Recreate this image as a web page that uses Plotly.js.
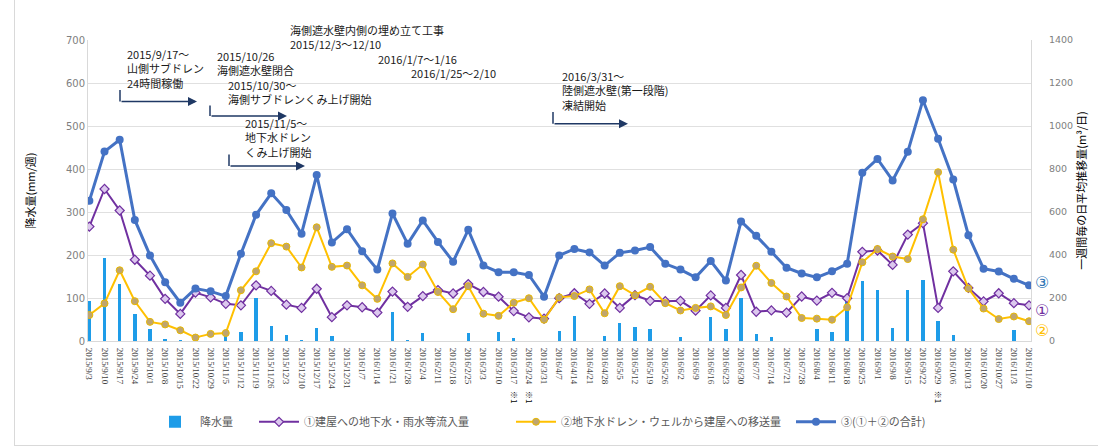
<!DOCTYPE html>
<html><head><meta charset="utf-8">
<script src="https://cdn.plot.ly/plotly-3.0.1.min.js"></script>
<style>
html,body{margin:0;padding:0;background:#fff;}
#wrap{position:relative;width:1098px;height:448px;}
#frame{position:absolute;left:14px;top:-2px;width:1090px;height:447px;border-left:1px solid #d9d9d9;border-bottom:1px solid #d9d9d9;pointer-events:none;}
#chart{position:absolute;left:0;top:0;width:1098px;height:448px;}
</style></head>
<body><div id="wrap"><div id="chart"></div><div id="frame"></div></div>
<script>
const dates = ["2015/9/3","2015/9/10","2015/9/17","2015/9/24","2015/10/1","2015/10/8","2015/10/15","2015/10/22","2015/10/29","2015/11/5","2015/11/12","2015/11/19","2015/11/26","2015/12/3","2015/12/10","2015/12/17","2015/12/24","2015/12/31","2016/1/7","2016/1/14","2016/1/21","2016/1/28","2016/2/4","2016/2/11","2016/2/18","2016/2/25","2016/3/3","2016/3/10","2016/3/17","2016/3/24","2016/3/31","2016/4/7","2016/4/14","2016/4/21","2016/4/28","2016/5/5","2016/5/12","2016/5/19","2016/5/26","2016/6/2","2016/6/9","2016/6/16","2016/6/23","2016/6/30","2016/7/7","2016/7/14","2016/7/21","2016/7/28","2016/8/4","2016/8/11","2016/8/18","2016/8/25","2016/9/1","2016/9/8","2016/9/15","2016/9/22","2016/9/29","2016/10/6","2016/10/13","2016/10/20","2016/10/27","2016/11/3","2016/11/10"];

// 降水量 (mm/週)
const rainfall = [92,194,132,62,27,4,1.5,0,0,18,22,99,34,15,3,30,12,0,0,0,67,3,19,1,1,19,0,20,7,0,0,24,59,1,11,42,33,27,0,9,0,56,27,100,16,10,0,0,29,20,98,140,118,31,118,141,47,14,0,0,0,25,0];

// ① 建屋への地下水・雨水等流入量 (m³/日)
const inflow = [532,707,607,378,304,196,126,225,203,173,166,259,233,169,154,243,111,166,157,132,230,159,209,237,221,265,228,206,139,110,104,199,222,173,221,154,213,187,185,187,141,212,154,307,136,142,132,207,188,224,199,415,421,354,495,548,154,324,247,184,222,176,166];

// ② 地下水ドレン・ウェルから建屋への移送量 (m³/日)
const transfer = [121,175,329,185,89,77,50,16,33,37,236,324,455,439,342,529,345,351,259,196,361,298,356,228,148,255,127,117,178,199,99,203,209,240,129,255,213,252,176,142,154,161,121,249,350,270,207,107,104,99,157,366,428,393,381,566,785,425,244,151,102,114,92];

// ③ (①＋②の合計) (m³/日)
const total = [652,881,936,563,398,273,178,244,231,209,406,587,687,609,499,772,458,520,418,332,593,452,561,461,369,517,351,320,320,307,206,398,428,412,351,410,421,437,359,332,296,372,281,556,489,415,341,314,296,324,359,782,847,747,880,1120,941,751,492,336,323,289,259];

const noteDates = ["2016/3/17","2016/3/24","2016/9/29"];

const L=88, R=67, T=40, B=95, W=1098-L-R, H=448-T-B;
const X = px => (px-L)/W;
const Y = py => (448-B-py)/H;

const jp = "'Noto Sans CJK JP', 'Noto Sans', sans-serif";
const textColor = "#1a1a1a";
const S = "\u3000";

const traces = [
  {type:'bar', x:dates, y:rainfall, name:'降水量', yaxis:'y', width:0.22, legend:'legend',
   marker:{color:'#1E9CE8'}},
  {type:'scatter', mode:'lines+markers', x:dates, y:inflow, name:'①建屋への地下水・雨水等流入量', yaxis:'y2', legend:'legend2',
   line:{color:'#7030A0', width:2}, marker:{symbol:'diamond', size:7, color:'#DCC8EE', line:{color:'#7030A0', width:1.2}}},
  {type:'scatter', mode:'lines+markers', x:dates, y:transfer, name:'②地下水ドレン・ウェルから建屋への移送量', yaxis:'y2', legend:'legend3',
   line:{color:'#FFC000', width:2}, marker:{symbol:'circle', size:7, color:'#BFA56E', line:{color:'#E8B800', width:1}}},
  {type:'scatter', mode:'lines+markers', x:dates, y:total, name:'③(①＋②の合計)', yaxis:'y2', legend:'legend4',
   line:{color:'#4472C4', width:3}, marker:{symbol:'circle', size:8, color:'#4472C4'}}
];

// text blocks: [lines, left px, center y px]
const blocks = [
  [["2015/9/17～","山側サブドレン","24時間稼働"],125,70],
  [["2015/10/26","海側遮水壁閉合",S+"2015/10/30～",S+"海側サブドレンくみ上げ開始"],215,79],
  [["2015/11/5～","地下水ドレン","くみ上げ開始"],243,141],
  [["海側遮水壁内側の埋め立て工事","2015/12/3～12/10",S.repeat(8)+"2016/1/7～1/16",S.repeat(11)+"2016/1/25～2/10"],288,52],
  [["2016/3/31～","陸側遮水壁(第一段階)","凍結開始"],560,93]
];

const annotations = blocks.map(b => ({
  text:b[0].join('<br>'), xref:'paper', yref:'paper', x:X(b[1]), y:Y(b[2]), xanchor:'left', yanchor:'middle', align:'left',
  showarrow:false, font:{family:jp, size:11, color:textColor}
}));

// [vertical x, y top, y bottom (horizontal level), arrow end x]
const arrows = [[120,92,104,197],[210,108,119,287],[229,159,171,305],[553,115,127,628]];
const shapes = [];
arrows.forEach(a => {
  shapes.push({type:'line', xref:'paper', yref:'paper', x0:X(a[0]), x1:X(a[0]), y0:Y(a[1]), y1:Y(a[2]), line:{color:'#1F3864', width:1.5}});
  annotations.push({xref:'paper', yref:'paper', x:X(a[3]), y:Y(a[2]), ax:-(a[3]-a[0]), ay:0, text:'',
    showarrow:true, arrowhead:2, arrowsize:1.2, arrowwidth:1.5, arrowcolor:'#1F3864'});
});

// circled labels on the right
[["③",'#2E75B6',292],["①",'#7030A0',321.5],["②",'#FFC000',342]].forEach(c => {
  annotations.push({text:c[0], xref:'paper', yref:'paper', x:X(1042), y:Y(c[2]), xanchor:'center', yanchor:'middle',
    showarrow:false, font:{family:"'DejaVu Sans', sans-serif", size:16, color:c[1]}});
});

// ※1 notes under ticks
noteDates.forEach(d => {
  annotations.push({text:'※1', xref:'x', yref:'paper', x:d, y:Y(411), xanchor:'center', yanchor:'middle',
    textangle:90, showarrow:false, font:{family:jp, size:8, color:'#000'}});
});

const legendBase = {orientation:'h', y:Y(437), xanchor:'left', yanchor:'middle',
  font:{family:jp, size:11, color:'#595959'}, itemwidth:40, bgcolor:'rgba(0,0,0,0)'};

const layout = {
  width:1098, height:448, margin:{l:L, r:R, t:T, b:B}, paper_bgcolor:'#fff', plot_bgcolor:'#fff',
  showlegend:true, bargap:0,
  legend:Object.assign({}, legendBase, {x:X(150)}),
  legend2:Object.assign({}, legendBase, {x:X(254)}),
  legend3:Object.assign({}, legendBase, {x:X(511)}),
  legend4:Object.assign({}, legendBase, {x:X(791)}),
  xaxis:{type:'category', range:[-0.09, 62.13], tickangle:90, showgrid:false, showline:true, linecolor:'#d9d9d9',
    ticks:'', ticklabelstandoff:4, tickfont:{family:"'Liberation Serif', serif", size:9, color:'#404040'}, automargin:false},
  yaxis:{range:[0,700], dtick:100, showgrid:true, gridcolor:'#e0e0e0', zeroline:false, showline:true, linecolor:'#d9d9d9', ticks:'',
    tickfont:{family:"'DejaVu Sans', sans-serif", size:10, color:'#808080'},
    title:{text:'降水量(mm/週)', font:{family:jp, size:11, color:'#000'}, standoff:28}, automargin:false},
  yaxis2:{overlaying:'y', side:'right', range:[0,1400], dtick:200, showgrid:false, zeroline:false, showline:true, linecolor:'#d9d9d9', ticks:'',
    tickfont:{family:"'DejaVu Sans', sans-serif", size:9.5, color:'#808080'}, ticklabelstandoff:15,
    title:{text:'一週間毎の日平均推移量(m³/日)', font:{family:jp, size:11, color:'#000'}, standoff:0}, automargin:false},
  annotations:annotations, shapes:shapes
};

Plotly.newPlot('chart', traces, layout, {displayModeBar:false, staticPlot:true});
</script></body></html>
